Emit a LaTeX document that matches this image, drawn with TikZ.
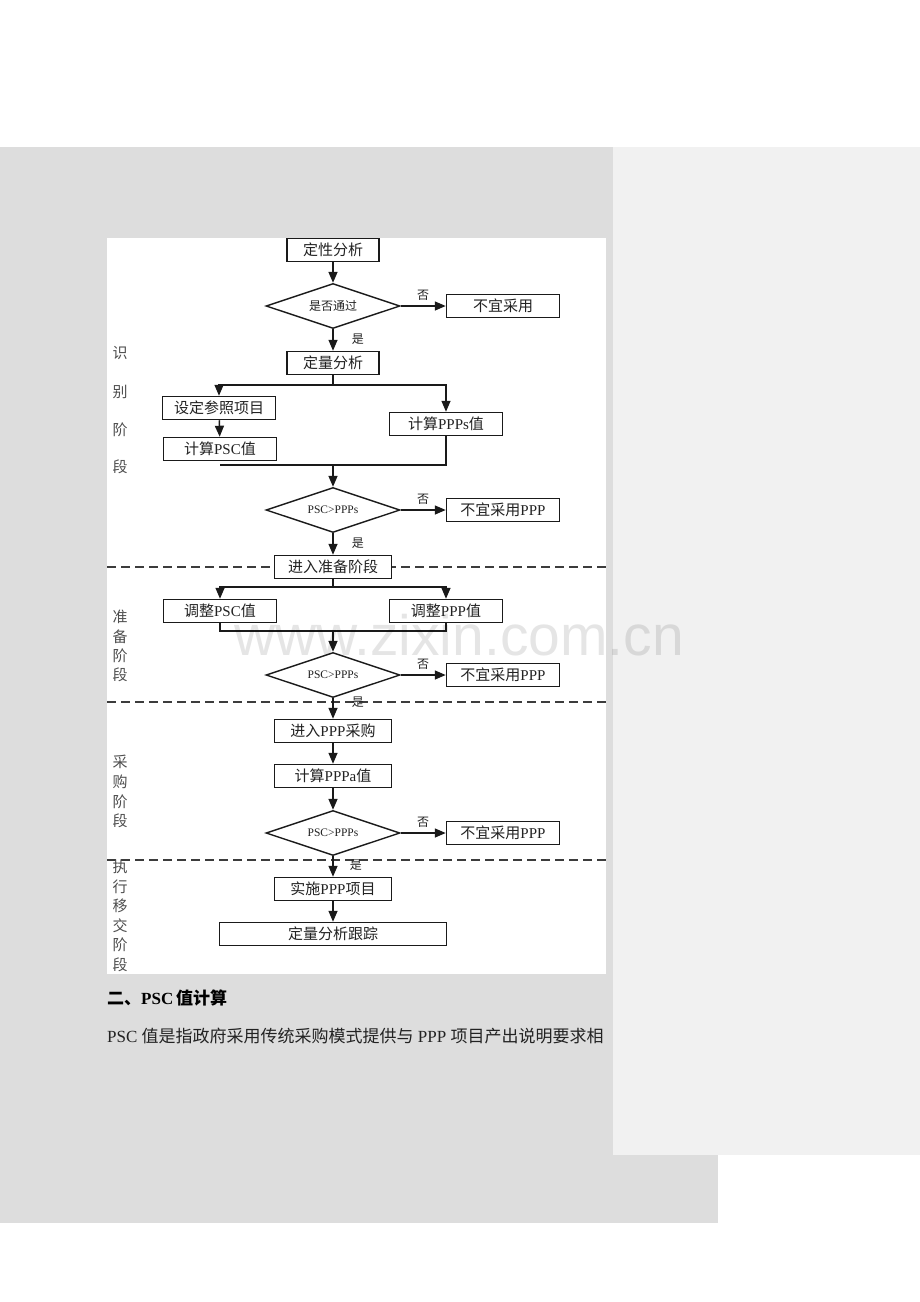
\documentclass[tikz,border=0pt]{standalone}
\usepackage{fontspec}
\setmainfont{Liberation Serif}
\newfontfamily\cjk{Noto Sans CJK SC}
\newfontfamily\wmfont{Liberation Sans}
\usetikzlibrary{shapes.geometric,arrows.meta}
\definecolor{pagegray}{HTML}{DDDDDD}
\definecolor{sidegray}{HTML}{F1F1F1}
\definecolor{linecol}{HTML}{1A1A1A}
\definecolor{txtcol}{HTML}{222222}
\newcommand{\zh}[1]{{\cjk #1}}
\begin{document}
\begin{tikzpicture}[x=1pt,y=-1pt,
  box/.style={draw=linecol, line width=1.5pt, fill=white, minimum height=23pt, inner sep=0pt,
    text=txtcol, font=\fontsize{15}{18}\selectfont},
  dia/.style={diamond, aspect=3, draw=linecol, line width=1.4pt, fill=white, minimum width=134pt,
    minimum height=45pt, inner sep=0pt, text=txtcol, font=\fontsize{11.5}{14}\selectfont},
  arr/.style={-{Triangle[length=11pt,width=9pt]}, line width=1.5pt, draw=linecol},
  ln/.style={line width=1.5pt, draw=linecol},
  yn/.style={font=\fontsize{12}{14}\selectfont\cjk, text=txtcol, inner sep=0pt},
  stage/.style={font=\fontsize{15}{18}\selectfont\cjk, text=txtcol!80, inner sep=0pt},
  sep/.style={line width=1.6pt, draw=linecol!85, dash pattern=on 9pt off 5pt}
]
\useasboundingbox (0,0) rectangle (920,1302);
% page background
\fill[white] (0,0) rectangle (920,1302);
\fill[pagegray] (0,147) rectangle (718,1223);
\fill[sidegray] (613,147) rectangle (920,1155);
\fill[white] (107,238) rectangle (606,974);

% dashed stage separators
\draw[sep] (107,567) -- (606,567);
\draw[sep] (107,702) -- (606,702);
\draw[sep] (107,860) -- (606,860);

% stage labels
\node[stage] (s1) at (120,353) {识};
\node[stage] (s2) at (120,392) {别};
\node[stage] (s3) at (120,430) {阶};
\node[stage] (s4) at (120,467) {段};
\node[stage] (p1) at (120,617) {准};
\node[stage] (p2) at (120,637) {备};
\node[stage] (p3) at (120,656) {阶};
\node[stage] (p4) at (120,675) {段};
\node[stage] (q1) at (120,762) {采};
\node[stage] (q2) at (120,782) {购};
\node[stage] (q3) at (120,802) {阶};
\node[stage] (q4) at (120,821) {段};
\node[stage] (r1) at (120,867) {执};
\node[stage] (r2) at (120,887) {行};
\node[stage] (r3) at (120,906) {移};
\node[stage] (r4) at (120,926) {交};
\node[stage] (r5) at (120,945) {阶};
\node[stage] (r6) at (120,965) {段};

% identification stage
\node[box, minimum width=92pt] (a) at (333,250) {\zh{定性分析}};
\node[dia, font=\fontsize{12}{14}\selectfont\cjk] (d1) at (333,306) {是否通过};
\node[box, minimum width=113pt] (n1) at (503,306) {\zh{不宜采用}};
\node[box, minimum width=92pt] (b) at (333,363) {\zh{定量分析}};
\node[box, minimum width=113pt] (c1) at (219,408) {\zh{设定参照项目}};
\node[box, minimum width=113pt] (c2) at (220,449) {\zh{计算}PSC\zh{值}};
\node[box, minimum width=113pt] (c3) at (446,424) {\zh{计算}PPPs\zh{值}};
\node[dia] (d2) at (333,510) {PSC>PPPs};
\node[box, minimum width=113pt] (n2) at (503,510) {\zh{不宜采用}PPP};

\draw[arr] (a) -- (d1);
\draw[arr] (d1) -- (n1) node[yn, pos=0.5, above=5pt] (no1) {否};
\draw[arr] (d1) -- (b) node[yn, pos=0.45, anchor=west, xshift=18pt] (yes1) {是};
\coordinate (sp1) at (333,385);
\draw[ln] (b) -- (sp1);
\draw[arr] (sp1) -| (c1.north);
\draw[arr] (sp1) -| (c3.north);
\draw[arr] (c1) -- (c2);
\coordinate (mg1l) at (220,465);
\coordinate (mg1) at (333,465);
\draw[ln] (c3.south) |- (mg1l);
\draw[arr] (mg1) -- (d2);
\draw[arr] (d2) -- (n2) node[yn, pos=0.5, above=5pt] (no2) {否};

% preparation stage
\node[box, minimum width=117pt] (e) at (333,567) {\zh{进入准备阶段}};
\node[box, minimum width=113pt] (f1) at (220,611) {\zh{调整}PSC\zh{值}};
\node[box, minimum width=113pt] (f2) at (446,611) {\zh{调整}PPP\zh{值}};
\node[dia] (d3) at (333,675) {PSC>PPPs};
\node[box, minimum width=113pt] (n3) at (503,675) {\zh{不宜采用}PPP};

\draw[arr] (d2) -- (e) node[yn, pos=0.45, anchor=west, xshift=18pt] (yes2) {是};
\coordinate (sp2) at (333,587);
\draw[ln] (e) -- (sp2);
\draw[arr] (sp2) -| (f1.north);
\draw[arr] (sp2) -| (f2.north);
\coordinate (mg2) at (333,631);
\draw[ln] (f1.south) |- (mg2) -| (f2.south);
\draw[arr] (mg2) -- (d3);
\draw[arr] (d3) -- (n3) node[yn, pos=0.5, above=5pt] (no3) {否};

% procurement stage
\node[box, minimum width=117pt] (g) at (333,731) {\zh{进入}PPP\zh{采购}};
\node[box, minimum width=117pt] (h) at (333,776) {\zh{计算}PPPa\zh{值}};
\node[dia] (d4) at (333,833) {PSC>PPPs};
\node[box, minimum width=113pt] (n4) at (503,833) {\zh{不宜采用}PPP};

\draw[arr] (d3) -- (g) node[yn, pos=0.2, anchor=west, xshift=18pt] (yes3) {是};
\draw[arr] (g) -- (h);
\draw[arr] (h) -- (d4);
\draw[arr] (d4) -- (n4) node[yn, pos=0.5, above=5pt] (no4) {否};

% execution stage
\node[box, minimum width=117pt] (k) at (333,889) {\zh{实施}PPP\zh{项目}};
\node[box, minimum width=227pt] (m) at (333,934) {\zh{定量分析跟踪}};
\draw[arr] (d4) -- (k) node[yn, pos=0.45, anchor=west, xshift=16pt] (yes4) {是};
\draw[arr] (k) -- (m);

% text below the figure
\node[anchor=west, inner sep=0pt, text=black, font=\fontsize{17}{20}\selectfont\bfseries] (title) at (107,998)
  {\zh{\bfseries 二、}PSC\,\zh{\bfseries 值计算}};
\node[anchor=west, inner sep=0pt, text=txtcol, font=\fontsize{17}{20}\selectfont] (para) at (107,1036)
  {PSC \zh{值是指政府采用传统采购模式提供与} PPP \zh{项目产出说明要求相}};

% watermark
\node[anchor=base, inner sep=0pt, text=black, opacity=0.1, font=\fontsize{57}{60}\selectfont\wmfont] (wm) at (459,655) {www.zixin.com.cn};
\end{tikzpicture}
\end{document}
